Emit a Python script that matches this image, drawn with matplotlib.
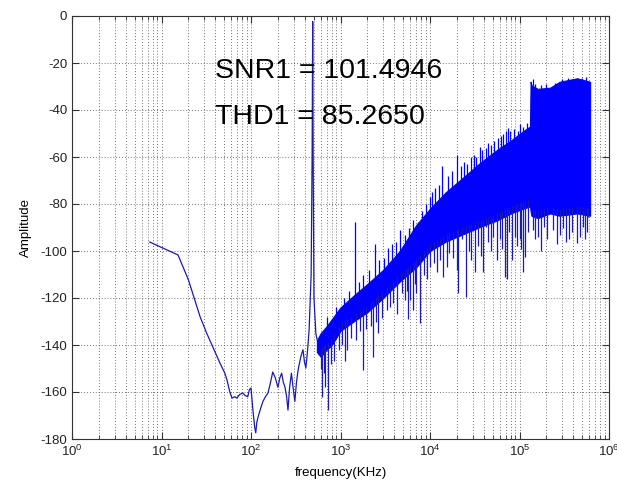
import numpy as np
import matplotlib
matplotlib.use("Agg")
import matplotlib.pyplot as plt
from matplotlib.ticker import LogLocator, NullFormatter, FixedLocator

plt.rcParams['font.family'] = ['Liberation Sans', 'DejaVu Sans']
plt.rcParams['mathtext.fontset'] = 'custom'
plt.rcParams['mathtext.rm'] = 'Liberation Sans'
plt.rcParams['axes.unicode_minus'] = False

# low frequency part of the spectrum (single trace), KHz / dB
low_freq = [7.4, 15.3, 20, 27, 32, 45, 51, 54, 58, 61.4, 66, 69.5, 75, 81, 86, 92, 96,
            100, 105, 110, 113, 116, 120, 128, 136, 145, 155, 165, 175, 187, 200,
            210, 220, 230, 240, 250, 259, 270, 283, 295, 309, 322, 336, 360, 381,
            395, 410, 426, 446, 470, 482, 489, 495, 505, 530, 550]
low_amp = [-96.2, -101.7, -112.3, -128, -135, -147.7, -152, -155, -160, -162.6, -162,
           -162.6, -161, -160.4, -161.5, -162, -159, -158.3, -167.7, -175, -177.4,
           -173, -170.6, -167, -164, -162, -160.4, -156, -151.5, -154, -158, -154,
           -152, -156, -158, -162, -167.7, -158, -152, -158, -164, -156, -150.6,
           -145, -142, -147, -149.8, -143.4, -133.6, -110, -58, -2.4, -60, -120,
           -135, -138]

# noise floor band envelope
band_freq = [545, 600, 700, 800, 1000, 1400, 2000, 3000, 4600, 7000, 10000, 15000,
             23000, 35000, 56000, 80000, 110000, 131000, 133000, 136000, 160000,
             220000, 280000, 440000, 615000]
band_top = [-138, -135, -132, -129, -124, -119, -114, -108, -100, -89, -82, -75,
            -69, -63, -57, -53, -49, -47, -28, -29.5, -31, -30.5, -28, -26.5, -28]
band_bot = [-143, -145, -142, -140, -134, -130, -126, -120, -113, -107, -100, -96,
            -93, -90, -87, -84, -82, -81, -83, -85, -86, -84, -85, -84, -85]

# spikes above the band (harmonics and noise peaks)
up_freq = [1450, 2450, 3400, 4600, 7300, 10000, 10500, 13500, 20000, 26000, 36000,
           38000, 48000, 62000, 74000, 95000, 110000,
           700, 900, 1100, 1250, 1600, 1800, 2100, 2700, 3100, 3800, 4200, 5200,
           5800, 6400, 8200, 9000, 11500, 12500, 16000, 17500, 22000, 24000, 29000,
           31000, 33000, 42000, 45000, 52000, 58000, 66000, 70000, 78000, 86000,
           100000, 120000, 140000, 150000, 175000, 200000, 250000, 300000, 350000,
           400000, 500000, 560000]
up_amp = [-87.7, -97, -98.7, -91, -87.7, -77, -75, -64, -59, -63, -55.7, -57, -55,
          -51, -47.7, -49, -47.2,
          -128, -124, -120, -117, -113, -110, -108, -104, -103, -97, -96, -93,
          -90, -87, -83, -80, -73, -72, -68, -66, -64, -62, -60,
          -59, -60, -56, -54, -53, -52, -50, -49, -49, -48,
          -46, -45.5, -27, -29, -29.5, -29, -28.5, -27, -26.5,
          -27, -26.5, -26]

# spikes below the band
dn_freq = [620, 676, 720, 1120, 1170, 1790, 2200, 2300, 2900, 4270, 5300, 5650, 6000,
           6500, 7700, 10000, 12000, 14000, 20000, 20500, 23000, 25000, 32000, 39000,
           42000, 56000, 69000, 72000, 83000, 93000, 110000, 115000, 141000, 162000,
           190000, 234000, 282000, 360000, 436000, 513000, 590000,
           600, 650, 780, 850, 950, 1050, 1300, 1500, 1650, 1950, 2500, 2650, 3300,
           3600, 3900, 4900, 5500, 6800, 7000, 8500, 9300, 11000, 13000, 15500,
           16500, 18000, 27000, 29000, 34000, 37000, 45000, 48000, 51000, 61000,
           64000, 76000, 88000, 100000, 105000, 125000, 150000, 175000, 205000,
           260000, 310000, 330000, 390000, 470000, 540000, 570000]
dn_amp = [-162, -158, -167.7, -147, -142, -150.6, -132, -145, -128.5, -127, -121,
          -129, -121, -125, -130.6, -106.8, -109, -111, -108, -118, -95, -119.6,
          -109, -109, -89.8, -103.8, -111, -112, -103.8, -98, -109, -102.5, -91,
          -94, -89.8, -91, -93, -95, -96.6, -89.8, -85.5,
          -150, -152, -148, -147, -142, -140, -137, -138, -134, -133, -130, -135,
          -125, -124, -122, -118, -117, -114, -118, -110, -112, -105, -104, -107,
          -101, -103, -100, -104, -98, -102, -96, -100, -94, -95,
          -99, -92, -94, -95, -99, -92, -95, -100, -95,
          -97, -90, -96, -92, -94, -95, -92]

snr_text = 'SNR1 = 101.4946'
thd_text = 'THD1 = 85.2650'

fig = plt.figure(figsize=(6.17, 4.91), dpi=100)
ax = fig.add_axes([72/617, 1-439/491, (609-72)/617, (439-16)/491])

line_col = '#1c1ca8'
band_col = '#0000ff'

ax.plot(low_freq, low_amp, color=line_col, lw=0.9)
ax.fill_between(band_freq, band_bot, band_top, color=band_col, lw=0.8, ec=band_col)

# spikes start inside the band
top_at_up = np.interp(np.log10(up_freq), np.log10(band_freq), band_top)
bot_at_dn = np.interp(np.log10(dn_freq), np.log10(band_freq), band_bot)
ax.vlines(up_freq, top_at_up - 3, up_amp, color=band_col, lw=0.9)
ax.vlines(dn_freq, bot_at_dn + 3, dn_amp, color=line_col, lw=0.9)

ax.set_xscale('log')
ax.set_xlim(1, 1e6)
ax.set_ylim(-180, 0)
ax.yaxis.set_major_locator(FixedLocator(np.arange(-180, 1, 20)))
ax.xaxis.set_major_locator(LogLocator(base=10, numticks=10))
ax.xaxis.set_minor_locator(LogLocator(base=10, subs=np.arange(2, 10), numticks=100))
ax.xaxis.set_minor_formatter(NullFormatter())

ax.grid(True, which='major', axis='both', color='#444444', lw=0.6, ls=(0, (1, 2.5)))
ax.grid(True, which='minor', axis='x', color='#444444', lw=0.6, ls=(0, (1, 2.5)))
ax.set_axisbelow(True)

ax.tick_params(which='both', direction='in', top=True, right=True,
               labelsize=9.5, labelcolor='#222222', color='#333333')
ax.tick_params(which='major', length=5)
ax.tick_params(which='minor', length=3)
for s in ax.spines.values():
    s.set_color('#333333')
    s.set_linewidth(0.8)

ax.text(40, -26.4, snr_text, fontsize=20.5, va='baseline', ha='left', zorder=5)
ax.text(40, -46, thd_text, fontsize=20.5, va='baseline', ha='left', zorder=5)

ax.set_xlabel('frequency(KHz)', fontsize=9.5, labelpad=6)
ax.set_ylabel('Amplitude', fontsize=9.5, labelpad=6)

fig.savefig('out.png', dpi=100)
